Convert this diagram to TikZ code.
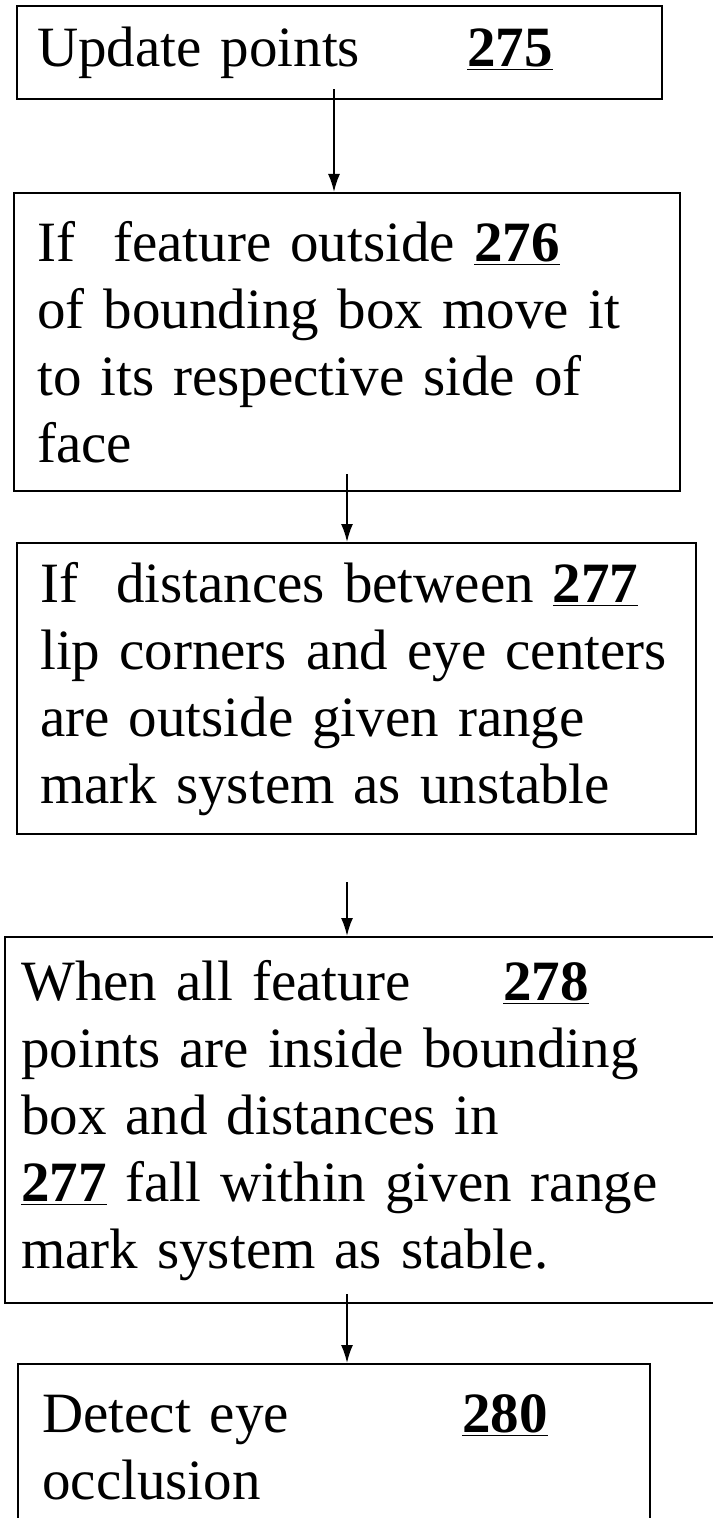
\documentclass[tikz,border=0pt]{standalone}
\usepackage{fontspec}
\setmainfont{Liberation Serif}
\usetikzlibrary{arrows.meta, calc, positioning}

\newcommand{\fignum}[1]{\textbf{\underline{#1}}}

\begin{document}
\begin{tikzpicture}[
    x=0.5pt, y=-0.5pt,
    stagebox/.style={draw, line width=1.2pt, anchor=north west, align=left,
      inner xsep=11.5pt, font=\fontsize{28.5}{33.5}\selectfont},
    flow/.style={draw, line width=0.9pt, -{Latex[length=9pt,width=6pt]}}]
  \useasboundingbox (0,0) rectangle (712,1518);
  \coordinate (axisa) at (334,0);
  \coordinate (axisb) at (347,0);
  \coordinate (gapstart) at (347,882);

  \node[stagebox, inner xsep=10pt, text width=302.5pt, minimum height=46.5pt] (upd) at (16,5)
    { Update points\hspace{1.88em}\fignum{275} };
  \node[stagebox, text width=310pt, minimum height=149pt] (feat) at (13,192)
    { If\ \ feature outside \fignum{276}\\ of bounding box move it\\
      to its respective side of\\ face };
  \node[stagebox, text width=316.5pt, minimum height=145.5pt] (dist) at (16,542)
    { If\ \ distances between \fignum{277}\\ lip corners and eye centers\\
      are outside given range\\ mark system as unstable };
  \node[stagebox, inner xsep=8pt, text width=343pt, minimum height=183pt] (stable) at (4,936)
    { When all feature\hspace{1.63em}\fignum{278}\\ points are inside bounding\\
      box and distances in\\ \fignum{277} fall within given range\\
      mark system as stable. };
  \node[stagebox, inner xsep=12pt, inner ysep=15pt, text width=292pt, text depth=60pt] (occl) at (17,1363)
    { Detect eye\hspace{3.04em}\fignum{280}\\ occlusion };

  % flow between the steps
  \draw[flow] ($(upd.south -| axisa)+(0,-11)$) -- (feat.north -| axisa);
  \draw[flow] ($(feat.south -| axisb)+(0,-18)$) -- (dist.north -| axisb);
  \draw[flow] (gapstart) -- (stable.north -| axisb);
  \draw[flow] ($(stable.south -| axisb)+(0,-10)$) -- (occl.north -| axisb);
\end{tikzpicture}
\end{document}
